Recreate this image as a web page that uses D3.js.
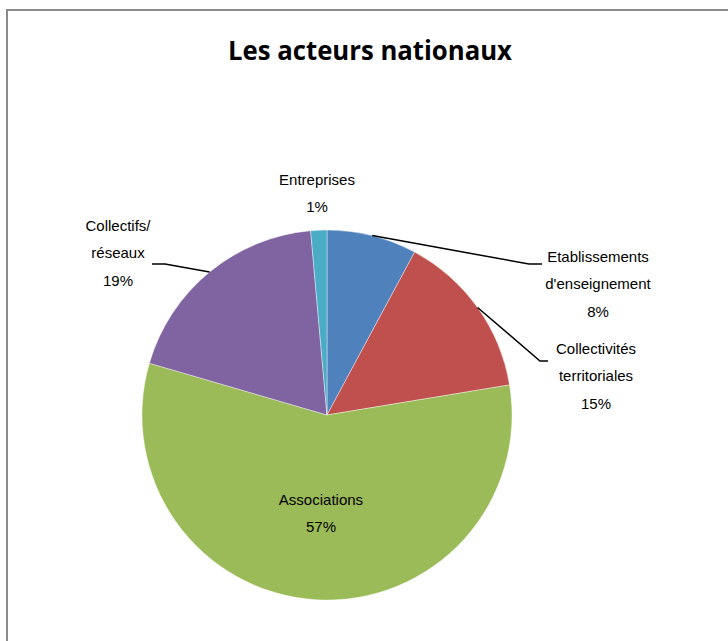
<!DOCTYPE html>
<html>
<head>
<meta charset="utf-8">
<script src="https://cdn.jsdelivr.net/npm/d3@7/dist/d3.min.js"></script>
<style>
  html, body { margin: 0; padding: 0; background: #fff; }
  svg { display: block; }
</style>
</head>
<body>
<svg id="chart" width="728" height="641"></svg>
<script>
// Share of national actors, in percent
const categories = [
  "Etablissements d'enseignement",
  "Collectivités territoriales",
  "Associations",
  "Collectifs/ réseaux",
  "Entreprises"
];
const values = [7.86, 14.54, 57.12, 19.07, 1.41];
const colors = ["#4F81BD", "#C0504D", "#9BBB59", "#8064A2", "#4BACC6"];
const labelLines = [
  ["Etablissements", "d'enseignement"],
  ["Collectivités", "territoriales"],
  ["Associations"],
  ["Collectifs/", "réseaux"],
  ["Entreprises"]
];
const title = "Les acteurs nationaux";

const W = 728, H = 641;
const cx = 327, cy = 415, R = 185;
const lineGap = 27.4;

// Label placement: text centre x, first baseline y, leader elbow and end
const labelLayout = [
  { x: 598, y: 261.7, elbow: [529, 264], end: [542, 264] },
  { x: 596, y: 354,   elbow: [540, 361], end: [548, 361] },
  { inside: true, r: 100 },
  { x: 118, y: 231,   elbow: [165, 264], end: [152, 264] },
  { x: 317, y: 185 }
];

const svg = d3.select("#chart");

// Chart frame
svg.append("rect")
  .attr("x", 7).attr("y", 10)
  .attr("width", 800).attr("height", 800)
  .attr("fill", "#fff")
  .attr("stroke", "#8a8a8a")
  .attr("stroke-width", 2);

// Title
svg.append("text")
  .attr("x", 370).attr("y", 59.5)
  .attr("text-anchor", "middle")
  .attr("font-family", "'Open Sans', 'DejaVu Sans', sans-serif")
  .attr("font-weight", "bold")
  .attr("font-size", 26)
  .attr("textLength", 284)
  .attr("lengthAdjust", "spacingAndGlyphs")
  .attr("fill", "#000")
  .text(title);

const total = d3.sum(values);
const pie = d3.pie().sort(null).value(d => d).startAngle(0).endAngle(2 * Math.PI);
const arcs = pie(values);
const arc = d3.arc().innerRadius(0).outerRadius(R);

const g = svg.append("g").attr("transform", `translate(${cx},${cy})`);

g.selectAll("path.slice")
  .data(arcs)
  .join("path")
  .attr("class", "slice")
  .attr("d", arc)
  .attr("fill", (d, i) => colors[i])
  .attr("stroke", "#ffffff")
  .attr("stroke-width", 0.4);

const pct = v => Math.round(v / total * 100) + "%";

// Leader lines from slice edge midpoint to label
arcs.forEach((d, i) => {
  const L = labelLayout[i];
  if (!L.elbow) return;
  const mid = (d.startAngle + d.endAngle) / 2;
  const sx = cx + R * Math.sin(mid);
  const sy = cy - R * Math.cos(mid);
  svg.append("polyline")
    .attr("points", [[sx, sy], L.elbow, L.end].map(p => p.join(",")).join(" "))
    .attr("fill", "none")
    .attr("stroke", "#000")
    .attr("stroke-width", 1.5);
});

// Category and percentage labels
arcs.forEach((d, i) => {
  const L = labelLayout[i];
  let x, y;
  if (L.inside) {
    const c = d3.arc().innerRadius(L.r).outerRadius(L.r).centroid(d);
    x = cx + c[0];
    y = cy + c[1] - 10;
  } else {
    x = L.x; y = L.y;
  }
  const lines = labelLines[i].concat([pct(values[i])]);
  const t = svg.append("text")
    .attr("text-anchor", "middle")
    .attr("font-family", "'Liberation Sans', Arial, sans-serif")
    .attr("font-size", 15)
    .attr("fill", "#000");
  lines.forEach((s, k) => {
    t.append("tspan").attr("x", x).attr("y", y + k * lineGap).text(s);
  });
});
</script>
</body>
</html>
